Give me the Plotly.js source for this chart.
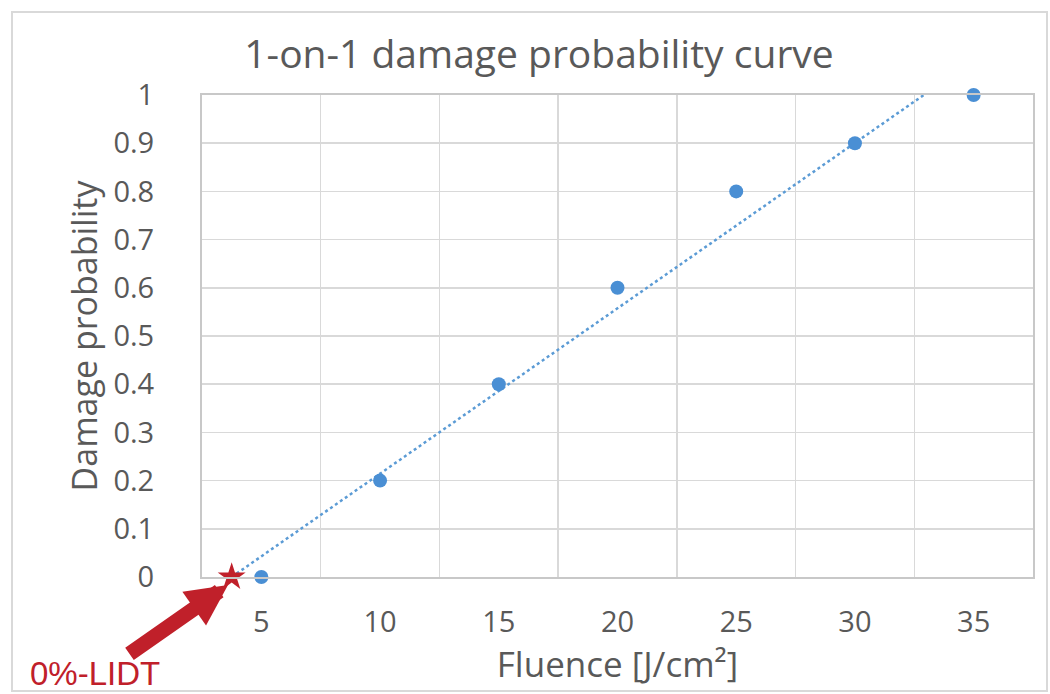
<!DOCTYPE html>
<html>
<head>
<meta charset="utf-8">
<script src="https://cdn.plot.ly/plotly-3.0.1.min.js"></script>
<style>html,body{margin:0;padding:0;background:#fff;}#chart{width:1050px;height:694px;}</style>
</head>
<body>
<div id="chart"></div>
<script>
const fluence = [5, 10, 15, 20, 25, 30, 35];
const damageProb = [0, 0.2, 0.4, 0.6, 0.8, 0.9, 1];
const trendX = [3.75, 32.9];
const trendY = [0, 1];
const lidtX = [3.75];
const lidtY = [0];
const xTicks = [5, 10, 15, 20, 25, 30, 35];
const yTicks = [0, 0.1, 0.2, 0.3, 0.4, 0.5, 0.6, 0.7, 0.8, 0.9, 1];

const W = 1050, H = 694;
const L = 202, R = 17, T = 95, B = 117;
const pw = W - L - R, ph = H - T - B;
const px = v => (v - L) / pw;
const py = v => (H - B - v) / ph;

const grey = '#595959';
const font = 'Open Sans, sans-serif';

const data = [
  {
    x: trendX, y: trendY, mode: 'lines', type: 'scatter',
    line: {color: '#5b9bd5', width: 2.5, dash: 'dot'},
    hoverinfo: 'skip', showlegend: false, cliponaxis: false
  },
  {
    x: fluence, y: damageProb, mode: 'markers', type: 'scatter',
    marker: {color: '#4a8fd4', size: 14},
    showlegend: false, cliponaxis: false
  },
  {
    x: lidtX, y: lidtY, mode: 'markers', type: 'scatter',
    marker: {color: '#c0202a', size: 21, symbol: 'star'},
    showlegend: false, cliponaxis: false
  }
];

const layout = {
  width: W, height: H,
  margin: {l: L, r: R, t: T, b: B, pad: 0},
  paper_bgcolor: '#ffffff', plot_bgcolor: '#ffffff',
  font: {family: font, color: grey},
  title: {
    text: '1-on-1 damage probability curve',
    font: {family: font, size: 39, color: grey},
    xref: 'container', yref: 'container',
    x: 539 / W, y: 1 - 54 / H, xanchor: 'center', yanchor: 'middle'
  },
  xaxis: {
    range: [2.5, 37.5],
    tickvals: xTicks,
    ticktext: xTicks.map(String),
    tickfont: {family: font, size: 29, color: grey},
    ticks: '', ticklabelstandoff: 18,
    showgrid: false, zeroline: false,
    showline: true, mirror: true, linecolor: '#c8c8c8', linewidth: 2,
    minor: {showgrid: true, tick0: 2.5, dtick: 5, gridcolor: '#d9d9d9', gridwidth: 1.5},
    title: {text: 'Fluence [J/cm²]', font: {family: font, size: 35, color: grey}, standoff: 2}
  },
  yaxis: {
    range: [0, 1],
    tickvals: yTicks,
    tickfont: {family: font, size: 29, color: grey},
    ticks: '', ticklabelstandoff: 40,
    showgrid: true, gridcolor: '#d9d9d9', gridwidth: 1.5,
    zeroline: false,
    showline: true, mirror: true, linecolor: '#c8c8c8', linewidth: 2,
    title: {text: 'Damage probability', font: {family: font, size: 34, color: grey}, standoff: 6}
  },
  shapes: [
    {type: 'rect', xref: 'paper', yref: 'paper',
     x0: px(12), x1: px(1047), y0: py(691), y1: py(12),
     line: {color: '#d9d9d9', width: 2}, fillcolor: 'rgba(0,0,0,0)', layer: 'below'}
  ],
  annotations: [
    {xref: 'paper', yref: 'paper', x: px(228), y: py(585),
     ax: -100, ay: 70, text: '', showarrow: true,
     arrowhead: 2, arrowsize: 0.55, arrowwidth: 15, arrowcolor: '#c0202a', standoff: 0},
    {xref: 'paper', yref: 'paper', x: px(28), y: py(694),
     xanchor: 'left', yanchor: 'bottom', text: '0%-LIDT', showarrow: false,
     font: {family: 'Liberation Sans, Arial, sans-serif', size: 33, color: '#c0202a'}}
  ]
};

Plotly.newPlot('chart', data, layout, {displayModeBar: false, staticPlot: true});
</script>
</body>
</html>
